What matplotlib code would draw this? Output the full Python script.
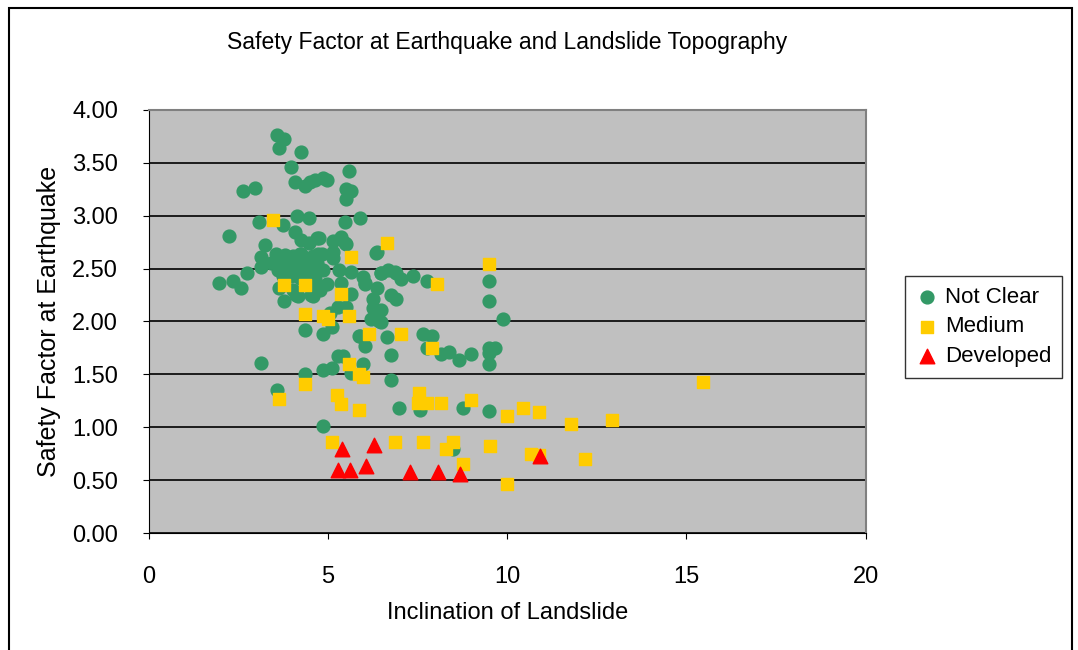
import matplotlib
matplotlib.use("Agg")
import matplotlib.pyplot as plt
from matplotlib.patches import Rectangle
import numpy as np

plt.rcParams['font.family'] = ['Liberation Sans', 'DejaVu Sans']

# inclination (deg) / safety factor pairs per development class
not_clear_x = [3.59, 3.78, 3.63, 4.26, 3.98, 4.09, 4.36, 4.49, 4.63, 4.86, 4.98, 5.60, 5.49, 5.65, 5.49,
               2.64, 2.97, 4.14, 4.47, 3.08, 5.48, 5.88, 3.75, 2.25, 4.09, 4.24, 4.48, 4.75, 5.14, 5.37,
               5.48, 3.24, 6.35, 4.68, 5.49, 6.37, 4.82, 5.14, 4.21, 4.30, 4.58, 4.86, 5.14, 5.31, 5.65,
               5.98, 6.04, 6.49, 6.68, 6.91, 7.05, 7.37, 6.37, 4.96, 4.58, 4.77, 5.37, 5.65, 6.26, 6.49,
               6.77, 6.91, 5.28, 5.51, 5.05, 6.30, 6.21, 6.42, 6.86, 7.77, 9.49, 9.49, 9.88, 6.03, 6.26,
               6.49, 6.35, 6.49, 6.03, 6.65, 7.65, 7.89, 7.75, 8.16, 8.38, 8.66, 9.00, 9.49, 9.65, 9.49,
               9.49, 6.77, 5.98, 6.77, 3.14, 2.75, 1.97, 2.35, 2.57, 3.62, 3.76, 4.16, 4.36, 5.10, 4.86,
               5.89, 5.87, 3.14, 5.28, 5.42, 4.36, 4.86, 5.10, 5.65, 3.58, 6.98, 7.56, 8.77, 9.49, 4.86,
               8.49, 3.56, 3.79, 3.65, 3.89, 4.03, 4.26, 4.21, 4.40, 4.58, 4.72, 4.68, 3.61, 3.84, 4.07,
               4.30, 4.54, 4.72, 3.75, 3.98, 4.21, 4.44, 4.63, 4.12, 4.54, 4.63, 4.03, 3.42, 3.14]
not_clear_y = [3.76, 3.72, 3.64, 3.60, 3.46, 3.32, 3.28, 3.32, 3.34, 3.36, 3.34, 3.42, 3.25, 3.23, 3.16,
               3.23, 3.26, 3.00, 2.98, 2.94, 2.94, 2.98, 2.91, 2.81, 2.85, 2.77, 2.74, 2.79, 2.76, 2.80,
               2.74, 2.72, 2.65, 2.79, 2.73, 2.66, 2.64, 2.66, 2.64, 2.52, 2.52, 2.49, 2.60, 2.49, 2.47,
               2.42, 2.35, 2.46, 2.49, 2.46, 2.40, 2.43, 2.32, 2.35, 2.24, 2.30, 2.36, 2.26, 2.21, 2.11,
               2.25, 2.21, 2.14, 2.14, 2.08, 2.11, 2.02, 2.00, 2.47, 2.38, 2.38, 2.19, 2.02, 2.36, 2.13,
               2.46, 2.02, 1.99, 1.77, 1.85, 1.88, 1.86, 1.75, 1.69, 1.71, 1.64, 1.69, 1.75, 1.75, 1.70,
               1.60, 1.68, 1.60, 1.45, 1.61, 2.46, 2.36, 2.38, 2.32, 2.32, 2.19, 2.24, 1.92, 1.95, 1.88,
               1.86, 1.86, 2.61, 1.67, 1.67, 1.50, 1.54, 1.56, 1.51, 1.35, 1.18, 1.16, 1.18, 1.15, 1.01,
               0.79, 2.64, 2.63, 2.57, 2.57, 2.62, 2.64, 2.57, 2.60, 2.62, 2.64, 2.55, 2.49, 2.49, 2.49,
               2.49, 2.49, 2.49, 2.43, 2.43, 2.41, 2.43, 2.40, 2.25, 2.25, 2.32, 2.30, 2.55, 2.51]

medium_x = [3.47, 6.66, 5.65, 9.49, 3.76, 4.36, 8.04, 5.37, 4.36, 4.86, 5.00, 5.59, 6.15, 7.05, 7.89,
            5.59, 5.87, 5.98, 4.36, 3.64, 5.26, 5.37, 5.87, 7.54, 7.51, 7.77, 8.16, 9.00, 9.99, 10.44,
            10.89, 11.79, 12.91, 15.46, 5.10, 6.88, 7.65, 8.49, 8.28, 9.51, 8.77, 9.99, 10.67, 12.18, 10.89]
medium_y = [2.96, 2.74, 2.61, 2.54, 2.34, 2.34, 2.35, 2.26, 2.07, 2.05, 2.02, 2.05, 1.88, 1.88, 1.75,
            1.60, 1.50, 1.47, 1.41, 1.27, 1.30, 1.22, 1.16, 1.32, 1.23, 1.23, 1.23, 1.26, 1.11, 1.18,
            1.14, 1.03, 1.07, 1.43, 0.86, 0.86, 0.86, 0.86, 0.79, 0.82, 0.65, 0.46, 0.75, 0.70, 0.74]

developed_x = [5.40, 6.28, 5.28, 5.61, 6.07, 7.30, 8.07, 8.69, 10.91]
developed_y = [0.79, 0.83, 0.60, 0.60, 0.63, 0.58, 0.58, 0.56, 0.73]

fig = plt.figure(figsize=(10.78, 6.5), dpi=100)
fig.patches.append(Rectangle((0.008, -0.01), 0.986, 0.998, transform=fig.transFigure,
                             fill=False, edgecolor='black', linewidth=1.5))

ax = fig.add_axes([0.138, 0.180, 0.665, 0.651])
ax.set_facecolor('#C0C0C0')

ax.scatter(not_clear_x, not_clear_y, s=85, marker='o', color='#339966', label='Not Clear', zorder=3)
ax.scatter(medium_x, medium_y, s=80, marker='s', color='#FFCC00', label='Medium', zorder=4)
ax.scatter(developed_x, developed_y, s=110, marker='^', color='#FF0000', label='Developed', zorder=5)

ax.set_xlim(0, 20)
ax.set_ylim(0, 4)
ax.set_xticks([0, 5, 10, 15, 20])
ax.set_yticks(np.arange(0, 4.01, 0.5))
ax.set_yticklabels(['%.2f' % v for v in np.arange(0, 4.01, 0.5)])
ax.yaxis.grid(True, color='black', linewidth=1.2)
ax.set_axisbelow(True)

for side in ['top', 'right']:
    ax.spines[side].set_color('#808080')
    ax.spines[side].set_linewidth(1.5)
for side in ['left', 'bottom']:
    ax.spines[side].set_color('black')
ax.tick_params(axis='both', labelsize=17, length=4, direction='out')
ax.tick_params(axis='x', pad=20)
ax.tick_params(axis='y', pad=18)

ax.set_title('Safety Factor at Earthquake and Landslide Topography', fontsize=16.5, pad=44)
ax.set_xlabel('Inclination of Landslide', fontsize=17, labelpad=10)
ax.set_ylabel('Safety Factor at Earthquake', fontsize=18, labelpad=8)

leg = fig.legend(loc='center left', bbox_to_anchor=(0.829, 0.497), fontsize=16,
                 frameon=True, fancybox=False, edgecolor='black', handletextpad=0.3,
                 borderpad=0.5, labelspacing=0.38, handlelength=1.0, scatterpoints=1)
leg.get_frame().set_linewidth(1.0)

fig.savefig('out.png', dpi=100)
